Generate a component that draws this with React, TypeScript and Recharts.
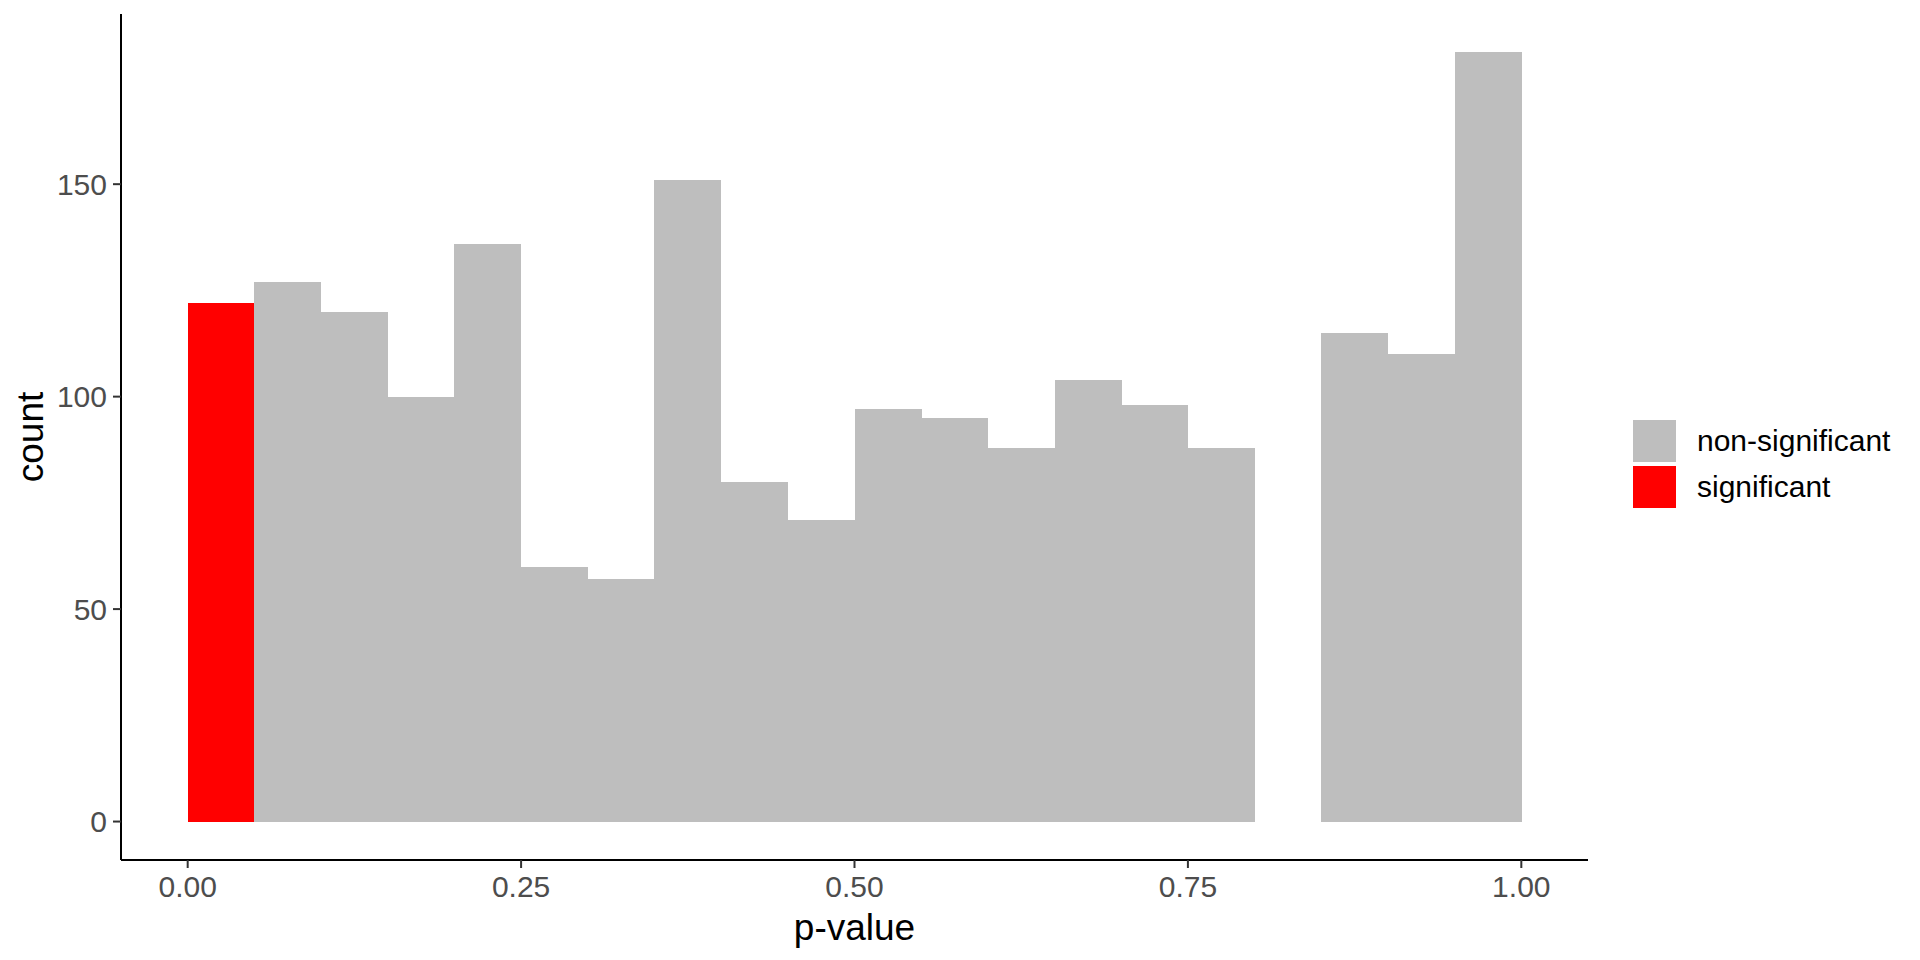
import React from 'react';
import { BarChart, Bar, XAxis, YAxis, Legend } from 'recharts';

// histogram bins of width 0.05
const binStarts = [
  0, 0.05, 0.1, 0.15, 0.2, 0.25, 0.3, 0.35, 0.4, 0.45,
  0.5, 0.55, 0.6, 0.65, 0.7, 0.75, 0.8, 0.85, 0.9, 0.95,
];
const significantCounts = [122, 0, 0, 0, 0, 0, 0, 0, 0, 0, 0, 0, 0, 0, 0, 0, 0, 0, 0, 0];
const nonSignificantCounts = [
  0, 127, 120, 100, 136, 60, 57, 151, 80, 71,
  97, 95, 88, 104, 98, 88, 0, 115, 110, 181,
];
const xTicks = [0, 0.25, 0.5, 0.75, 1];
const yTicks = [0, 50, 100, 150];
const legendItems = [
  { label: 'non-significant', color: '#BEBEBE' },
  { label: 'significant', color: '#FF0000' },
];

const BIN_WIDTH = 0.05;

const chartData = binStarts.map((start, i) => ({
  bin: start.toFixed(2),
  mid: start + BIN_WIDTH / 2,
  significant: significantCounts[i],
  nonSignificant: nonSignificantCounts[i],
}));

const FONT = '"Liberation Sans", Arial, sans-serif';

const LegendBox = () => (
  <div style={{ fontFamily: FONT }}>
    {legendItems.map(item => (
      <div
        key={item.label}
        style={{ display: 'flex', alignItems: 'center', height: 42, marginBottom: 4 }}
      >
        <div style={{ width: 43, height: 42, background: item.color }} />
        <span style={{ marginLeft: 21, fontSize: 30, color: '#000' }}>{item.label}</span>
      </div>
    ))}
  </div>
);

const App: React.FC = () => {
  return (
    <div style={{ position: 'absolute', left: 0, top: 0, width: 1920, height: 960, background: '#fff' }}>
      <BarChart
        width={1920}
        height={960}
        data={chartData}
        margin={{ top: 14, right: 332, bottom: 0, left: 0 }}
        barCategoryGap={0}
        barGap={0}
      >
        <XAxis xAxisId="bin" dataKey="bin" hide height={0} padding={{ left: 66.7, right: 66.7 }} />
        <XAxis
          xAxisId="p"
          dataKey="mid"
          type="number"
          domain={[-0.05, 1.05]}
          ticks={xTicks}
          tickFormatter={(v: number) => v.toFixed(2)}
          height={100}
          axisLine={{ stroke: '#000', strokeWidth: 2 }}
          tickLine={{ stroke: '#333', strokeWidth: 2 }}
          tickSize={8}
          tickMargin={8}
          tick={{ fill: '#4D4D4D', fontSize: 30, fontFamily: FONT }}
          allowDataOverflow
          label={(props: any) => {
            const vb = props.viewBox;
            return (
              <text
                x={vb.x + vb.width / 2}
                y={vb.y + 80}
                textAnchor="middle"
                fontSize={37}
                fontFamily={FONT}
                fill="#000"
              >
                p-value
              </text>
            );
          }}
        />
        <YAxis
          width={121}
          domain={[-9.05, 190.05]}
          ticks={yTicks}
          allowDataOverflow
          axisLine={{ stroke: '#000', strokeWidth: 2 }}
          tickLine={{ stroke: '#333', strokeWidth: 2 }}
          tickSize={8}
          tickMargin={6}
          tick={{ fill: '#4D4D4D', fontSize: 30, fontFamily: FONT }}
          label={(props: any) => {
            const vb = props.viewBox;
            const cy = vb.y + vb.height / 2;
            return (
              <text
                x={43}
                y={cy}
                transform={`rotate(-90, 43, ${cy})`}
                textAnchor="middle"
                fontSize={37}
                fontFamily={FONT}
                fill="#000"
              >
                count
              </text>
            );
          }}
        />
        <Bar
          xAxisId="bin"
          dataKey="significant"
          stackId="a"
          fill="#FF0000"
          shapeRendering="crispEdges"
          isAnimationActive={false}
        />
        <Bar
          xAxisId="bin"
          dataKey="nonSignificant"
          stackId="a"
          fill="#BEBEBE"
          shapeRendering="crispEdges"
          isAnimationActive={false}
        />
        <Legend
          layout="horizontal"
          align="center"
          verticalAlign="middle"
          content={() => <LegendBox />}
          wrapperStyle={{ left: 1633, top: 420, width: 280, height: 92 }}
        />
      </BarChart>
    </div>
  );
};

export default App;
